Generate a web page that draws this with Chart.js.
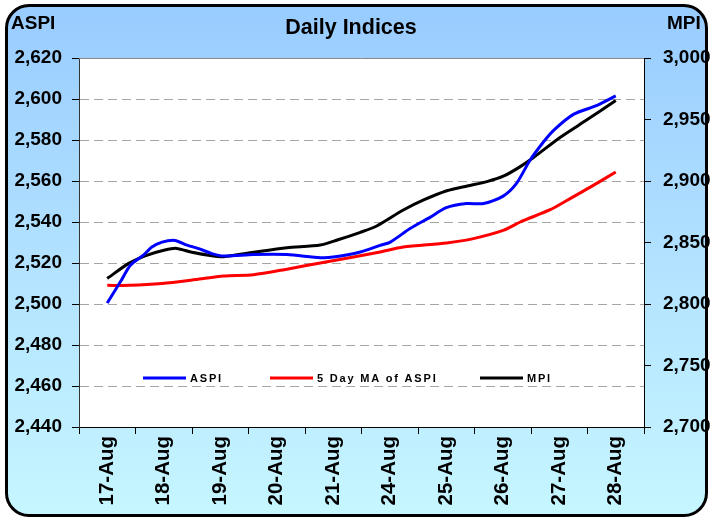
<!DOCTYPE html>
<html>
<head>
<meta charset="utf-8">
<title>Daily Indices</title>
<script src="https://cdn.jsdelivr.net/npm/chart.js@4.4.0/dist/chart.umd.min.js"></script>
<style>
  body{margin:0;background:#fff;}
  #wrap{position:relative;width:710px;height:518px;overflow:hidden;}
  #frame{position:absolute;left:5px;top:4px;width:703px;height:513px;box-sizing:border-box;
    border:3px solid #000;border-radius:24px;
    background:linear-gradient(to bottom,#99ccff 0%,#b4e4ff 55%,#c6f6ff 100%);}
  #chart{position:absolute;left:0;top:0;}
</style>
</head>
<body>
<div id="wrap">
  <div id="frame"></div>
  <canvas id="chart" width="710" height="518"></canvas>
</div>
<script>
var days=['17-Aug','18-Aug','19-Aug','20-Aug','21-Aug','24-Aug','25-Aug','26-Aug','27-Aug','28-Aug'];

// x = position in trading days (0 = 17-Aug)
var aspiDay=[0,0.23,0.41,0.64,0.79,0.97,1.2,1.38,1.62,1.85,2.06,2.59,3.18,3.77,4.0,4.48,4.83,5.01,5.36,5.72,6.0,6.36,6.66,7.0,7.24,7.48,7.72,7.9,8.25,8.67,9.0];
var aspiValues=[2500.5,2510.7,2518.9,2523.8,2527.8,2530.2,2531,2529,2527,2524.6,2523.4,2524.1,2524.1,2522.6,2522.9,2525.4,2528.6,2530.2,2536.8,2542.4,2547,2549,2549,2552.5,2558.7,2570,2579,2584.7,2592.5,2596.9,2601.5];

var maDay=[0,0.4,0.97,1.56,2.06,2.59,3.18,3.77,4.36,4.83,5.24,6.01,6.48,7.02,7.31,7.84,8.14,8.55,9.0];
var maValues=[2509.1,2509.1,2510,2511.9,2513.7,2514.3,2517,2520,2522.9,2525.4,2527.8,2529.8,2531.9,2536,2540,2546,2550.6,2557,2564.4];

var mpiDay=[0,0.38,0.67,1.02,1.23,1.5,1.85,2.06,2.59,3.18,3.77,4.07,4.48,4.77,5.24,5.6,6.01,6.37,6.72,7.02,7.31,7.55,8.02,8.49,9.0];
var mpiValues=[2820.8,2833,2839.2,2843.9,2845.2,2842,2839.2,2838.4,2842,2845.7,2847.9,2852,2858.3,2863.4,2876.4,2884.6,2892.1,2896,2899.5,2904.1,2911.7,2919.3,2935.6,2949.7,2965.4];

var FONT='"Liberation Sans", Arial, sans-serif';

var pts=function(xs,ys){
  return xs.map(function(x,i){ return {x:x,y:ys[i]}; });
};

var frame={
  id:'frame',
  beforeDraw:function(chart){
    var c=chart.ctx,a=chart.chartArea;
    c.save();
    c.fillStyle='#fff';
    c.fillRect(a.left,a.top,a.right-a.left,a.bottom-a.top);
    c.restore();
  },
  afterDraw:function(chart){
    var c=chart.ctx,a=chart.chartArea;
    c.save();
    // top border of plot
    c.strokeStyle='#888';c.lineWidth=1;
    c.beginPath();c.moveTo(a.left,a.top+0.5);c.lineTo(a.right,a.top+0.5);c.stroke();
    // title + axis titles
    c.fillStyle='#000';
    c.textBaseline='alphabetic';
    c.font='bold 21.5px '+FONT;
    c.textAlign='center';
    c.fillText('Daily Indices',351,34);
    c.font='bold 19px '+FONT;
    c.textAlign='left';
    c.fillText('ASPI',11,29);
    c.fillText('MPI',667,29);
    // legend inside plot
    var offs=[64,191,401];
    var y=a.top+320;
    c.font='bold 11px '+FONT;
    c.textBaseline='middle';
    if('letterSpacing' in c) c.letterSpacing='1.8px';
    chart.data.datasets.forEach(function(ds,i){
      var x=a.left+offs[i];
      c.strokeStyle=ds.borderColor;c.lineWidth=3;
      c.beginPath();c.moveTo(x,y);c.lineTo(x+43,y);c.stroke();
      c.fillStyle='#000';
      c.fillText(ds.label,x+47,y+1);
    });
    c.restore();
  }
};

var ctx=document.getElementById('chart').getContext('2d');
new Chart(ctx,{
  type:'line',
  data:{
    labels:days,
    datasets:[
      {label:'ASPI',data:pts(aspiDay,aspiValues),borderColor:'#0000ff',xAxisID:'xPos',yAxisID:'y'},
      {label:'5 Day MA of ASPI',data:pts(maDay,maValues),borderColor:'#ff0000',xAxisID:'xPos',yAxisID:'y'},
      {label:'MPI',data:pts(mpiDay,mpiValues),borderColor:'#000000',xAxisID:'xPos',yAxisID:'y1'}
    ]
  },
  options:{
    responsive:false,
    animation:false,
    layout:{padding:{top:58,left:0,right:0,bottom:0}},
    elements:{point:{radius:0},line:{borderWidth:3,tension:0.25,fill:false}},
    plugins:{legend:{display:false},tooltip:{enabled:false},title:{display:false}},
    scales:{
      x:{
        type:'category',position:'bottom',offset:true,
        grid:{offset:true,drawOnChartArea:false,tickLength:7,tickColor:'#000'},
        border:{color:'#000',width:1},
        ticks:{minRotation:90,maxRotation:90,autoSkip:false,padding:2,color:'#000',font:{family:FONT,size:20.5,weight:'bold'}},
        afterFit:function(s){ s.height=91; }
      },
      xPos:{type:'linear',min:-0.5,max:9.5,display:false},
      y:{
        position:'left',min:2440,max:2620,
        ticks:{stepSize:20,padding:10,color:'#000',font:{family:FONT,size:19,weight:'bold'}},
        grid:{
          color:function(c){ var v=c.tick&&c.tick.value; return (v===2440||v===2620)?'rgba(0,0,0,0)':'#a6a6a6'; },
          tickColor:'#000',tickLength:7,tickBorderDash:[]
        },
        border:{color:'#333',width:1,dash:[9,5]},
        afterFit:function(s){ s.width=79; }
      },
      y1:{
        position:'right',min:2700,max:3000,
        ticks:{stepSize:50,padding:12,color:'#000',font:{family:FONT,size:19,weight:'bold'}},
        grid:{drawOnChartArea:false,tickColor:'#000',tickLength:7},
        border:{color:'#000',width:1},
        afterFit:function(s){ s.width=66; }
      }
    }
  },
  plugins:[frame]
});
</script>
</body>
</html>
